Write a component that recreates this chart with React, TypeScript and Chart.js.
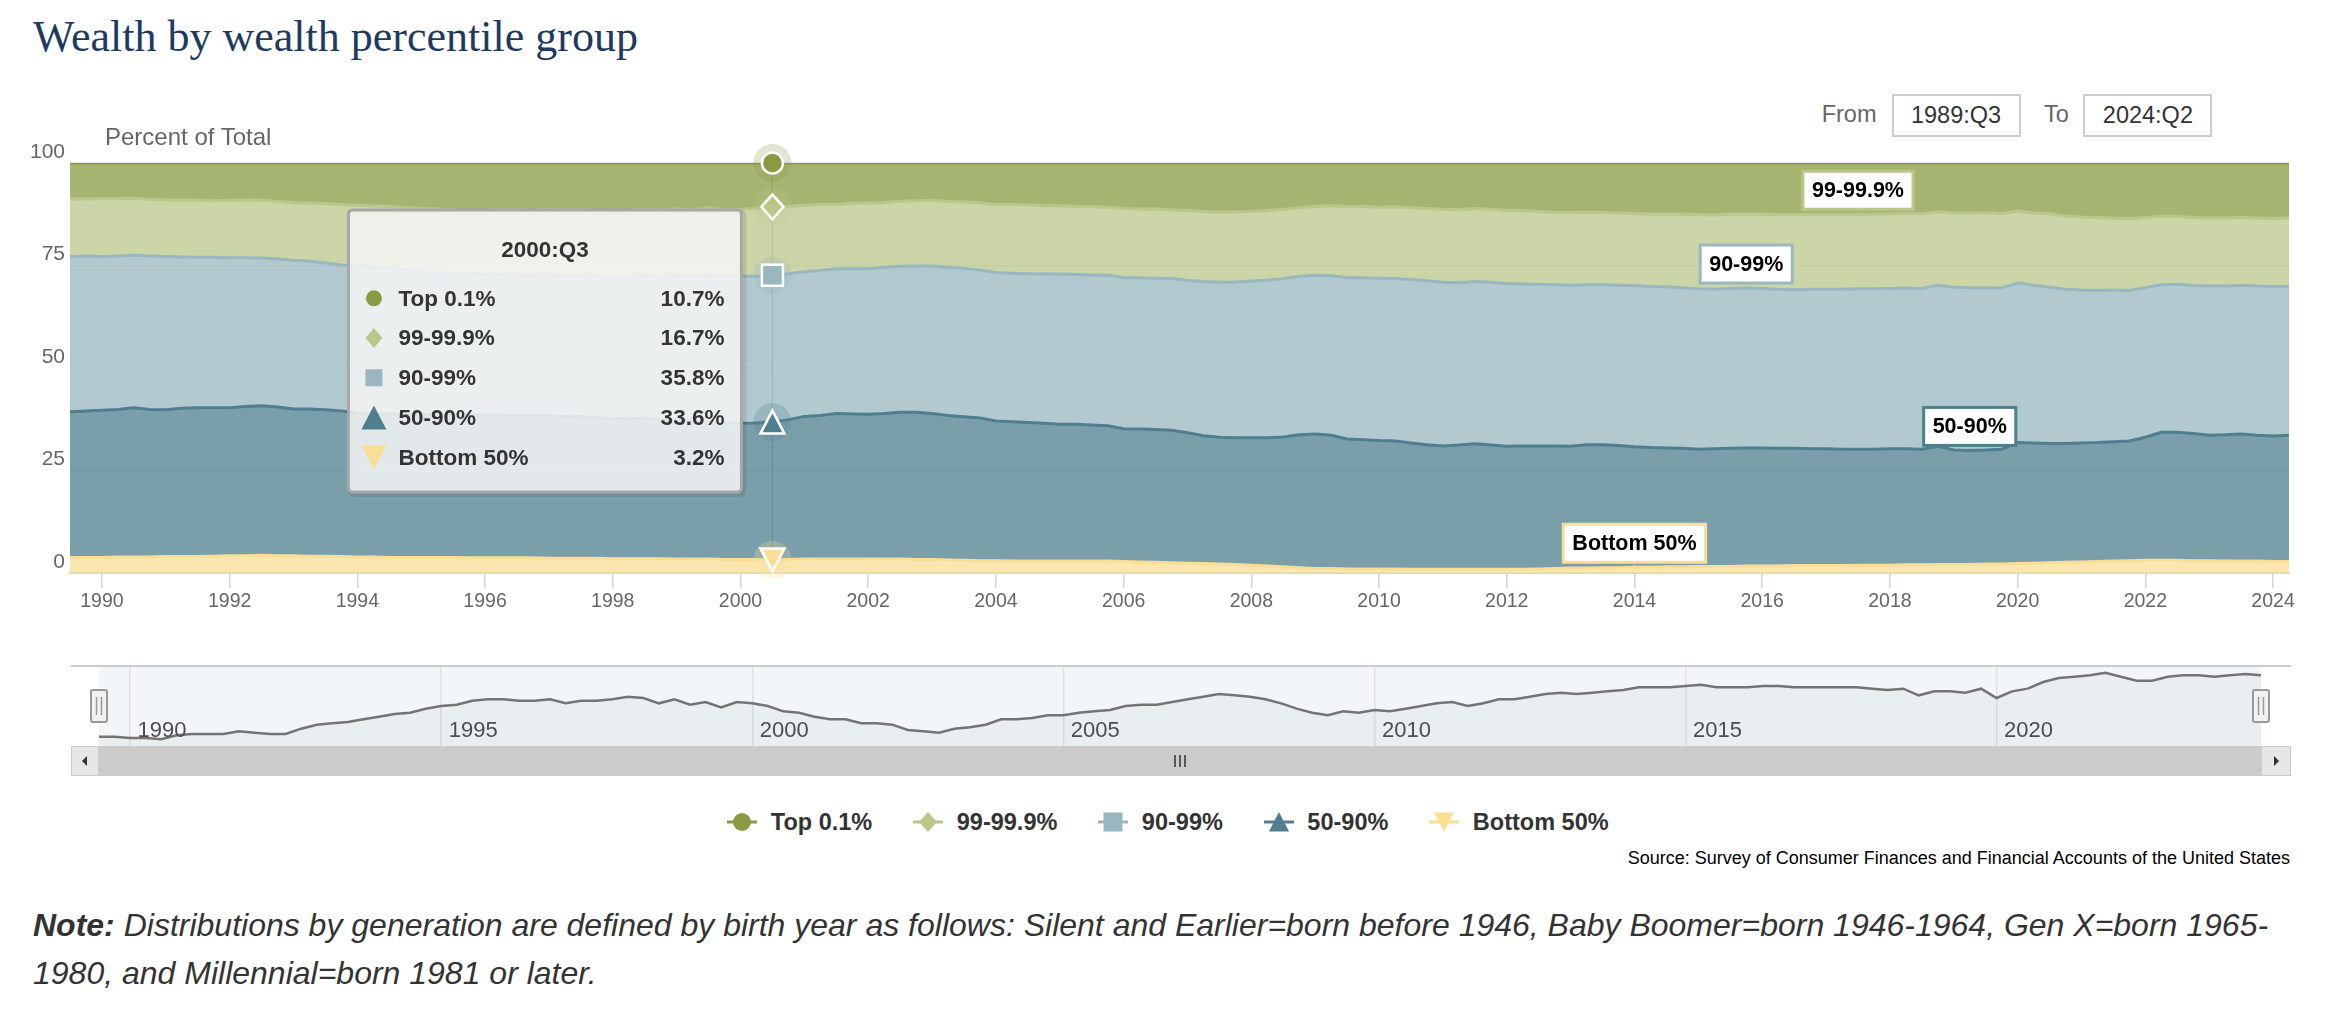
import React, { useEffect, useRef } from "react";
import { Chart, registerables } from "chart.js";

Chart.register(...registerables);

// ---------------- data ----------------
const FIRST_YEAR = 1989;
const FIRST_QUARTER = 3;
const hoveredQuarter = "2000:Q3";

const seriesNames = ["Top 0.1%", "99-99.9%", "90-99%", "50-90%", "Bottom 50%"];

const top01 = [
  8.8, 8.8, 8.7, 8.7, 8.6, 8.9, 9.0, 9.0, 9.0, 9.2,
  9.1, 9.0, 9.0, 9.4, 9.7, 9.8, 9.9, 10.1, 10.3, 10.5,
  10.6, 10.9, 11.1, 11.2, 11.5, 11.6, 11.6, 11.5, 11.5, 11.6,
  11.3, 11.5, 11.5, 11.6, 11.8, 11.7, 11.3, 11.6, 11.2, 11.4,
  11.0, 11.4, 11.3, 11.1, 10.7, 10.6, 10.3, 10.1, 10.1, 9.8,
  9.8, 9.7, 9.3, 9.2, 9.1, 9.4, 9.5, 9.7, 10.1, 10.1,
  10.2, 10.4, 10.4, 10.6, 10.7, 10.8, 11.1, 11.2, 11.2, 11.4,
  11.6, 11.8, 12.0, 11.9, 11.8, 11.6, 11.3, 10.9, 10.6, 10.4,
  10.7, 10.6, 10.8, 10.7, 10.9, 11.1, 11.3, 11.4, 11.1, 11.3,
  11.6, 11.6, 11.8, 12.0, 12.1, 12.0, 12.1, 12.2, 12.3, 12.5,
  12.5, 12.5, 12.6, 12.7, 12.5, 12.5, 12.5, 12.6, 12.6, 12.5,
  12.5, 12.5, 12.5, 12.5, 12.4, 12.3, 12.4, 11.9, 12.2, 12.2,
  12.1, 12.4, 11.7, 12.2, 12.4, 12.9, 13.2, 13.3, 13.4, 13.6,
  13.3, 13.0, 13.0, 13.3, 13.4, 13.4, 13.3, 13.4, 13.5, 13.4,
];

const p99to999 = [
  14.0, 13.9, 14.1, 14.0, 13.9, 13.8, 13.8, 13.9, 14.0, 13.8,
  14.0, 14.1, 14.2, 14.0, 14.0, 14.1, 14.5, 14.8, 14.7, 14.9,
  15.1, 15.1, 15.3, 15.5, 15.5, 15.5, 15.6, 15.7, 15.8, 15.8,
  15.9, 16.0, 16.0, 16.0, 16.0, 16.0, 16.1, 16.1, 16.2, 16.2,
  16.3, 16.2, 16.3, 16.5, 16.7, 16.4, 16.2, 16.1, 15.7, 16.0,
  16.0, 15.8, 15.9, 15.9, 16.0, 16.0, 16.2, 16.4, 16.6, 16.8,
  16.8, 16.7, 16.7, 16.6, 16.6, 16.6, 16.8, 16.8, 16.9, 16.8,
  17.0, 17.1, 17.1, 17.1, 17.0, 17.0, 16.9, 16.7, 16.8, 17.1,
  17.3, 17.4, 17.3, 17.5, 17.5, 17.6, 17.8, 17.8, 17.8, 17.8,
  17.8, 17.9, 17.8, 17.7, 17.7, 17.7, 17.6, 17.6, 17.6, 17.6,
  17.7, 17.9, 18.1, 18.1, 18.1, 18.0, 18.1, 18.2, 18.3, 18.3,
  18.3, 18.3, 18.2, 18.2, 18.2, 18.2, 18.2, 17.9, 18.1, 18.2,
  18.3, 18.1, 17.6, 17.6, 17.9, 17.9, 17.8, 17.8, 17.6, 17.5,
  17.1, 16.7, 16.6, 16.6, 16.6, 16.6, 16.5, 16.6, 16.6, 16.7,
];

const p90to99 = [
  37.9, 37.8, 37.5, 37.4, 37.2, 37.4, 37.4, 36.9, 36.7, 36.7,
  36.6, 36.3, 36.0, 36.1, 36.3, 36.1, 35.8, 35.6, 35.9, 35.7,
  35.5, 35.2, 34.9, 34.6, 34.4, 34.3, 34.3, 34.3, 34.3, 34.2,
  34.5, 34.3, 34.4, 34.5, 34.5, 34.7, 34.8, 34.8, 35.3, 35.4,
  35.9, 35.8, 35.9, 35.8, 35.8, 35.6, 35.3, 35.4, 35.3, 35.4,
  35.5, 35.6, 35.6, 35.7, 36.0, 36.2, 36.2, 36.1, 36.2, 36.2,
  36.3, 36.4, 36.6, 36.5, 36.6, 36.7, 36.9, 36.9, 36.9, 37.0,
  37.2, 37.6, 37.8, 38.0, 38.2, 38.4, 38.6, 38.7, 38.7, 38.9,
  39.3, 39.5, 39.6, 39.6, 39.9, 40.0, 39.9, 39.6, 39.6, 39.7,
  39.7, 39.5, 39.4, 39.3, 39.3, 39.0, 39.0, 39.1, 39.3, 39.3,
  39.3, 39.2, 39.1, 38.9, 39.0, 39.0, 38.9, 38.8, 38.7, 38.9,
  38.9, 39.0, 39.1, 39.1, 39.1, 39.2, 39.2, 39.3, 39.7, 39.7,
  39.6, 39.3, 38.9, 38.5, 38.1, 37.6, 37.3, 37.1, 37.0, 36.7,
  36.5, 36.0, 36.1, 36.1, 36.4, 36.3, 36.3, 36.4, 36.5, 36.3,
];

const p50to90 = [
  35.5, 35.7, 35.9, 36.0, 36.4, 36.0, 35.8, 36.2, 36.3, 36.2,
  36.1, 36.4, 36.5, 36.3, 35.8, 35.9, 35.7, 35.5, 35.2, 35.0,
  35.0, 35.0, 34.9, 34.9, 34.8, 34.9, 34.8, 34.8, 34.7, 34.7,
  34.7, 34.6, 34.5, 34.3, 34.2, 34.1, 34.3, 34.0, 33.9, 33.6,
  33.4, 33.3, 33.2, 33.3, 33.6, 34.1, 34.8, 35.0, 35.5, 35.4,
  35.3, 35.5, 35.8, 35.9, 35.6, 35.2, 35.0, 34.8, 34.1, 34.0,
  33.8, 33.6, 33.4, 33.4, 33.2, 33.0, 32.4, 32.4, 32.4, 32.3,
  31.8, 31.2, 30.9, 30.9, 31.1, 31.3, 31.7, 32.4, 32.8, 32.5,
  31.7, 31.5, 31.3, 31.2, 30.8, 30.4, 30.1, 30.3, 30.6, 30.3,
  30.0, 30.1, 30.0, 29.9, 29.7, 30.1, 30.0, 29.8, 29.4, 29.2,
  29.0, 28.9, 28.6, 28.7, 28.8, 28.8, 28.8, 28.7, 28.6, 28.5,
  28.5, 28.4, 28.3, 28.3, 28.4, 28.3, 28.2, 28.8, 27.9, 27.8,
  27.8, 28.0, 29.5, 29.3, 29.1, 29.0, 29.0, 29.0, 29.1, 29.2,
  30.0, 31.2, 31.2, 31.0, 30.6, 30.8, 31.0, 30.7, 30.6, 30.8,
];

const bottom50 = [
  3.8, 3.8, 3.8, 3.9, 3.9, 3.9, 4.0, 4.0, 4.0, 4.1,
  4.2, 4.2, 4.3, 4.2, 4.2, 4.1, 4.1, 4.0, 3.9, 3.9,
  3.8, 3.8, 3.8, 3.8, 3.8, 3.7, 3.7, 3.7, 3.7, 3.7,
  3.6, 3.6, 3.6, 3.6, 3.5, 3.5, 3.5, 3.5, 3.4, 3.4,
  3.4, 3.3, 3.3, 3.3, 3.2, 3.3, 3.4, 3.4, 3.4, 3.4,
  3.4, 3.4, 3.4, 3.3, 3.3, 3.2, 3.1, 3.0, 3.0, 2.9,
  2.9, 2.9, 2.9, 2.9, 2.9, 2.9, 2.8, 2.7, 2.6, 2.5,
  2.4, 2.3, 2.2, 2.1, 1.9, 1.7, 1.5, 1.3, 1.1, 1.1,
  1.0, 1.0, 1.0, 1.0, 0.9, 0.9, 0.9, 0.9, 0.9, 0.9,
  0.9, 0.9, 1.0, 1.1, 1.2, 1.2, 1.3, 1.3, 1.4, 1.4,
  1.5, 1.5, 1.6, 1.6, 1.6, 1.7, 1.7, 1.7, 1.8, 1.8,
  1.8, 1.8, 1.9, 1.9, 1.9, 2.0, 2.0, 2.1, 2.1, 2.1,
  2.2, 2.2, 2.3, 2.4, 2.5, 2.6, 2.7, 2.8, 2.9, 3.0,
  3.1, 3.1, 3.1, 3.0, 3.0, 2.9, 2.9, 2.9, 2.8, 2.8,
];

const seriesValues = [top01, p99to999, p90to99, p50to90, bottom50];

// quarter categories (1989:Q3 ... 2024:Q2)
const quarterLabels: string[] = top01.map((_, i) => {
  const q = FIRST_QUARTER - 1 + i;
  return `${FIRST_YEAR + Math.floor(q / 4)}:Q${(q % 4) + 1}`;
});
const quarterX: number[] = quarterLabels.map((label) => {
  const [year, quarter] = label.split(":Q");
  return Number(year) + (Number(quarter) - 1) / 4;
});

const xTickYears = [1990, 1992, 1994, 1996, 1998, 2000, 2002, 2004, 2006, 2008, 2010, 2012, 2014, 2016, 2018, 2020, 2022, 2024];
const yTickValues = [0, 25, 50, 75, 100];
const navigatorYears = [1990, 1995, 2000, 2005, 2010, 2015, 2020];
// quarter at which each series' in-chart label sits ("" = no label)
const seriesLabelQuarters = ["", "2017:Q3", "2015:Q4", "2019:Q2", "2014:Q1"];

// ---------------- styles ----------------
const FONT = '"Liberation Sans", Arial, Helvetica, sans-serif';
const SERIF = '"Liberation Serif", "Times New Roman", serif';
const seriesColors = ["#889b43", "#bac78b", "#98b7bf", "#4f7f8e", "#fade96"];
const seriesShapes = ["circle", "diamond", "square", "triangle", "triangle-down"];
const hoverSizes = [[10.5, 10.5], [11, 12.5], [10.5, 10.5], [12, 11.5], [12, 11.5]];
const tipSizes = [[8, 8], [8.5, 10], [8.5, 8.5], [12.5, 12], [12.5, 12]];

const hoverIndex = quarterLabels.indexOf(hoveredQuarter);

function hexToRgba(hex: string, a: number) {
  const n = parseInt(hex.slice(1), 16);
  return `rgba(${(n >> 16) & 255},${(n >> 8) & 255},${n & 255},${a})`;
}

function shapePath(ctx: any, shape: string, x: number, y: number, rx: number, ry: number) {
  ctx.beginPath();
  if (shape === "circle") {
    ctx.ellipse(x, y, rx, ry, 0, 0, Math.PI * 2);
  } else if (shape === "diamond") {
    ctx.moveTo(x, y - ry); ctx.lineTo(x + rx, y); ctx.lineTo(x, y + ry); ctx.lineTo(x - rx, y); ctx.closePath();
  } else if (shape === "square") {
    ctx.rect(x - rx, y - ry, rx * 2, ry * 2);
  } else if (shape === "triangle") {
    ctx.moveTo(x, y - ry); ctx.lineTo(x + rx, y + ry); ctx.lineTo(x - rx, y + ry); ctx.closePath();
  } else {
    ctx.moveTo(x - rx, y - ry); ctx.lineTo(x + rx, y - ry); ctx.lineTo(x, y + ry); ctx.closePath();
  }
}

function roundRectPath(ctx: any, x: number, y: number, w: number, h: number, r: number) {
  ctx.beginPath();
  ctx.moveTo(x + r, y);
  ctx.arcTo(x + w, y, x + w, y + h, r);
  ctx.arcTo(x + w, y + h, x, y + h, r);
  ctx.arcTo(x, y + h, x, y, r);
  ctx.arcTo(x, y, x + w, y, r);
  ctx.closePath();
}

const mainOverlay = {
  id: "mainOverlay",
  beforeDatasetsDraw(chart: any) {
    const { ctx, chartArea } = chart;
    const x = chart.scales.x.getPixelForValue(quarterX[hoverIndex]);
    ctx.save();
    ctx.strokeStyle = "#c4c4c4";
    ctx.lineWidth = 1.5;
    ctx.beginPath();
    ctx.moveTo(x, chartArea.top);
    ctx.lineTo(x, chartArea.bottom);
    ctx.stroke();
    ctx.restore();
  },
  afterDatasetsDraw(chart: any) {
    const ctx = chart.ctx;
    const n = seriesValues.length;
    const pointOf = (k: number, i: number) => chart.getDatasetMeta(n - 1 - k).data[i];
    ctx.save();

    // series labels
    ctx.font = `bold 21.5px ${FONT}`;
    ctx.textAlign = "center";
    ctx.textBaseline = "middle";
    seriesLabelQuarters.forEach((q, k) => {
      if (!q) return;
      const p = pointOf(k, quarterLabels.indexOf(q));
      const w = ctx.measureText(seriesNames[k]).width + 18;
      const h = 38;
      const bx = p.x - w / 2;
      const by = p.y - 5 - h;
      ctx.fillStyle = "#ffffff";
      ctx.fillRect(bx, by, w, h);
      ctx.strokeStyle = seriesColors[k];
      ctx.lineWidth = 3;
      ctx.strokeRect(bx, by, w, h);
      ctx.fillStyle = "#000000";
      ctx.fillText(seriesNames[k], p.x, by + h / 2 + 1);
      ctx.beginPath();
      ctx.arc(p.x, p.y, 2, 0, Math.PI * 2);
      ctx.fillStyle = seriesColors[k];
      ctx.fill();
    });

    // hover halos and markers
    for (let k = 0; k < n; k++) {
      const p = pointOf(k, hoverIndex);
      ctx.fillStyle = hexToRgba(seriesColors[k], 0.25);
      ctx.beginPath();
      ctx.arc(p.x, p.y, 19, 0, Math.PI * 2);
      ctx.fill();
    }
    for (let k = 0; k < n; k++) {
      const p = pointOf(k, hoverIndex);
      shapePath(ctx, seriesShapes[k], p.x, p.y, hoverSizes[k][0], hoverSizes[k][1]);
      ctx.fillStyle = seriesColors[k];
      ctx.fill();
      ctx.strokeStyle = "#ffffff";
      ctx.lineWidth = 2.5;
      ctx.stroke();
    }

    // tooltip
    const hx = pointOf(0, hoverIndex).x;
    const tw = 393;
    const th = 282;
    const tx = hx - 31 - tw;
    const ty = 110;
    ctx.strokeStyle = "rgba(0,0,0,0.10)";
    ctx.lineWidth = 6;
    roundRectPath(ctx, tx + 2, ty + 2, tw, th, 4);
    ctx.stroke();
    roundRectPath(ctx, tx, ty, tw, th, 4);
    ctx.fillStyle = "rgba(247,247,247,0.85)";
    ctx.fill();
    ctx.strokeStyle = "#a8a8a8";
    ctx.lineWidth = 3;
    ctx.stroke();

    ctx.font = `bold 22.5px ${FONT}`;
    ctx.fillStyle = "#333333";
    ctx.textAlign = "center";
    ctx.fillText(hoveredQuarter, tx + tw / 2, ty + 41);
    for (let k = 0; k < n; k++) {
      const cy = ty + 88.3 + k * 39.75;
      shapePath(ctx, seriesShapes[k], tx + 25.5, cy, tipSizes[k][0], tipSizes[k][1]);
      ctx.fillStyle = seriesColors[k];
      ctx.fill();
      ctx.fillStyle = "#333333";
      ctx.textAlign = "left";
      ctx.fillText(seriesNames[k], tx + 50, cy + 1);
      ctx.textAlign = "right";
      ctx.fillText(`${seriesValues[k][hoverIndex].toFixed(1)}%`, tx + 376, cy + 1);
    }
    ctx.restore();
  },
};

function buildMainConfig(): any {
  const n = seriesValues.length;
  const datasets = seriesValues
    .map((_, idx) => n - 1 - idx)
    .map((k, j) => ({
      label: seriesNames[k],
      data: seriesValues[k].map((v, i) => ({ x: quarterX[i], y: v })),
      borderColor: seriesColors[k],
      backgroundColor: hexToRgba(seriesColors[k], 0.75),
      borderWidth: 3,
      pointRadius: 0,
      pointHoverRadius: 0,
      tension: 0,
      fill: j === 0 ? "origin" : "-1",
    }));
  return {
    type: "line",
    data: { datasets },
    options: {
      responsive: false,
      animation: false,
      events: [],
      layout: { padding: { left: 0, right: 47, top: 63, bottom: 0 } },
      plugins: { legend: { display: false }, tooltip: { enabled: false } },
      scales: {
        x: {
          type: "linear",
          min: quarterX[0],
          max: quarterX[quarterX.length - 1],
          afterBuildTicks: (s: any) => { s.ticks = xTickYears.map((v) => ({ value: v })); },
          afterFit: (s: any) => { s.height = 67; },
          grid: { drawOnChartArea: false, drawTicks: true, tickLength: 15, color: "#ccd6eb", lineWidth: 1.5 },
          border: { display: true, color: "#ccd6eb", width: 2 },
          ticks: {
            color: "#666666",
            font: { family: FONT, size: 19.5 },
            padding: 2,
            maxRotation: 0,
            autoSkip: false,
            callback: (v: any) => String(v),
          },
        },
        y: {
          stacked: true,
          min: 0,
          max: 100,
          afterBuildTicks: (s: any) => { s.ticks = yTickValues.map((v) => ({ value: v })); },
          afterFit: (s: any) => { s.width = 70; },
          grid: { color: "#e6e6e6", lineWidth: 1.5, drawTicks: false },
          border: { display: false },
          ticks: {
            color: "#666666",
            font: { family: FONT, size: 21 },
            padding: 5,
            labelOffset: -11,
            callback: (v: any) => String(v),
          },
        },
      },
    },
    plugins: [mainOverlay],
  };
}

const navOverlay = {
  id: "navOverlay",
  beforeDraw(chart: any) {
    const { ctx, chartArea: a } = chart;
    ctx.save();
    ctx.fillStyle = "#f2f6f9";
    ctx.fillRect(a.left, a.top, a.right - a.left, a.bottom - a.top);
    ctx.restore();
  },
  afterDraw(chart: any) {
    const { ctx, chartArea: a } = chart;
    const xs = chart.scales.x;
    ctx.save();
    // year labels
    ctx.font = `22px ${FONT}`;
    ctx.fillStyle = "#4d4d4d";
    ctx.textAlign = "left";
    ctx.textBaseline = "middle";
    navigatorYears.forEach((y) => ctx.fillText(String(y), xs.getPixelForValue(y) + 7.5, a.bottom - 15));

    const left = a.left - 28;
    const right = a.right + 30;
    // outline
    ctx.strokeStyle = "#cccccc";
    ctx.lineWidth = 2;
    ctx.beginPath();
    ctx.moveTo(left, a.top);
    ctx.lineTo(right, a.top);
    ctx.stroke();

    // scrollbar
    const sy = a.bottom;
    const sh = 30;
    ctx.fillStyle = "#f2f2f2";
    ctx.fillRect(left, sy, right - left, sh);
    ctx.fillStyle = "#e6e6e6";
    ctx.fillRect(left, sy, a.left - left, sh);
    ctx.fillRect(a.right, sy, right - a.right, sh);
    ctx.strokeStyle = "#cccccc";
    ctx.lineWidth = 1;
    ctx.strokeRect(left + 0.5, sy + 0.5, a.left - left - 1, sh - 1);
    ctx.strokeRect(a.right + 0.5, sy + 0.5, right - a.right - 1, sh - 1);
    ctx.fillStyle = "#cccccc";
    ctx.fillRect(a.left, sy, a.right - a.left, sh);
    // arrows
    const cy = sy + sh / 2;
    ctx.fillStyle = "#333333";
    const lx = (left + a.left) / 2;
    ctx.beginPath(); ctx.moveTo(lx - 3, cy); ctx.lineTo(lx + 2, cy - 5); ctx.lineTo(lx + 2, cy + 5); ctx.closePath(); ctx.fill();
    const rx = (a.right + right) / 2;
    ctx.beginPath(); ctx.moveTo(rx + 3, cy); ctx.lineTo(rx - 2, cy - 5); ctx.lineTo(rx - 2, cy + 5); ctx.closePath(); ctx.fill();
    // grip
    const gx = (a.left + a.right) / 2;
    ctx.strokeStyle = "#333333";
    ctx.lineWidth = 1.5;
    [-5, 0, 5].forEach((d) => {
      ctx.beginPath(); ctx.moveTo(gx + d, cy - 6); ctx.lineTo(gx + d, cy + 6); ctx.stroke();
    });

    // handles
    const hy = (a.top + a.bottom) / 2;
    [a.left, a.right].forEach((hxc) => {
      roundRectPath(ctx, hxc - 8, hy - 16, 16, 32, 2);
      ctx.fillStyle = "#f2f2f2";
      ctx.fill();
      ctx.strokeStyle = "#999999";
      ctx.lineWidth = 2;
      ctx.stroke();
      ctx.lineWidth = 1.5;
      [-2.5, 2.5].forEach((d) => {
        ctx.beginPath(); ctx.moveTo(hxc + d, hy - 9); ctx.lineTo(hxc + d, hy + 9); ctx.stroke();
      });
    });
    ctx.restore();
  },
};

function buildNavConfig(): any {
  const lo = Math.min(...top01);
  const hi = Math.max(...top01);
  const pad = (hi - lo) * 0.1;
  return {
    type: "line",
    data: {
      datasets: [
        {
          label: seriesNames[0],
          data: top01.map((v, i) => ({ x: quarterX[i], y: v })),
          borderColor: "#747474",
          borderWidth: 2.5,
          pointRadius: 0,
          tension: 0,
          fill: "start",
          backgroundColor: "rgba(110,120,100,0.06)",
        },
      ],
    },
    options: {
      responsive: false,
      animation: false,
      events: [],
      layout: { padding: { left: 99, right: 75, top: 6, bottom: 39 } },
      plugins: { legend: { display: false }, tooltip: { enabled: false } },
      scales: {
        x: {
          type: "linear",
          min: quarterX[0],
          max: quarterX[quarterX.length - 1],
          afterBuildTicks: (s: any) => { s.ticks = navigatorYears.map((v) => ({ value: v })); },
          afterFit: (s: any) => { s.height = 0; },
          grid: { color: "#e0e0e0", lineWidth: 1.5, drawTicks: false },
          border: { display: false },
          ticks: { display: false },
        },
        y: { display: false, min: lo - pad, max: hi + pad },
      },
    },
    plugins: [navOverlay],
  };
}

function LegendSymbol({ shape, color }: { shape: string; color: string }) {
  let marker: any;
  if (shape === "circle") marker = <circle cx={15} cy={12} r={9} fill={color} />;
  else if (shape === "diamond") marker = <polygon points="15,2 24,12 15,22 6,12" fill={color} />;
  else if (shape === "square") marker = <rect x={5.5} y={2.5} width={19} height={19} fill={color} />;
  else if (shape === "triangle") marker = <polygon points="15,2 25,21.5 5,21.5" fill={color} />;
  else marker = <polygon points="5,2.5 25,2.5 15,22" fill={color} />;
  return (
    <svg width={30} height={24} style={{ display: "block", marginRight: 13.5 }}>
      <line x1={0} y1={12} x2={30} y2={12} stroke={color} strokeWidth={3} />
      {marker}
    </svg>
  );
}

export default function App() {
  const mainRef = useRef<HTMLCanvasElement>(null);
  const navRef = useRef<HTMLCanvasElement>(null);

  useEffect(() => {
    const charts: any[] = [];
    if (mainRef.current) charts.push(new Chart(mainRef.current, buildMainConfig()));
    if (navRef.current) charts.push(new Chart(navRef.current, buildNavConfig()));
    return () => charts.forEach((c) => c.destroy());
  }, []);

  const boxStyle: any = {
    position: "absolute",
    top: 94.3,
    width: 129,
    height: 43,
    boxSizing: "border-box",
    border: "2px solid #cccccc",
    display: "flex",
    alignItems: "center",
    justifyContent: "center",
    fontSize: 23.5,
    color: "#333333",
    background: "#ffffff",
  };

  return (
    <div
      style={{
        position: "absolute",
        left: 0,
        top: 0,
        width: 2336,
        height: 1034,
        background: "#ffffff",
        overflow: "hidden",
        fontFamily: FONT,
      }}
    >
      <div
        style={{
          position: "absolute",
          left: 33,
          top: 15.3,
          fontFamily: SERIF,
          fontSize: 44,
          lineHeight: "44px",
          color: "#1e3a5f",
          whiteSpace: "nowrap",
        }}
      >
        Wealth by wealth percentile group
      </div>

      <div style={{ position: "absolute", left: 1821.7, top: 102, fontSize: 23.5, lineHeight: "24px", color: "#666666" }}>From</div>
      <div style={{ ...boxStyle, left: 1891.5 }}>{quarterLabels[0]}</div>
      <div style={{ position: "absolute", left: 2044, top: 102, fontSize: 23.5, lineHeight: "24px", color: "#666666" }}>To</div>
      <div style={{ ...boxStyle, left: 2083.4 }}>{quarterLabels[quarterLabels.length - 1]}</div>

      <canvas ref={mainRef} width={2336} height={540} style={{ position: "absolute", left: 0, top: 100 }} />

      <div
        style={{
          position: "absolute",
          left: 105,
          top: 124.5,
          fontSize: 24,
          lineHeight: "24px",
          color: "#666666",
          whiteSpace: "nowrap",
        }}
      >
        Percent of Total
      </div>

      <canvas ref={navRef} width={2336} height={125} style={{ position: "absolute", left: 0, top: 660 }} />

      <div
        style={{
          position: "absolute",
          left: 0,
          top: 809.5,
          width: 2336,
          height: 24,
          display: "flex",
          justifyContent: "center",
          alignItems: "center",
          gap: 41,
        }}
      >
        {seriesNames.map((name, k) => (
          <div key={name} style={{ display: "flex", alignItems: "center" }}>
            <LegendSymbol shape={seriesShapes[k]} color={seriesColors[k]} />
            <span style={{ fontSize: 23.5, fontWeight: "bold", color: "#333333", lineHeight: "24px", whiteSpace: "nowrap" }}>
              {name}
            </span>
          </div>
        ))}
      </div>

      <div
        style={{
          position: "absolute",
          right: 46,
          top: 848,
          fontSize: 18,
          lineHeight: "20px",
          color: "#000000",
          whiteSpace: "nowrap",
        }}
      >
        Source: Survey of Consumer Finances and Financial Accounts of the United States
      </div>

      <div
        style={{
          position: "absolute",
          left: 33,
          top: 901.4,
          fontSize: 32,
          lineHeight: "48px",
          fontStyle: "italic",
          color: "#333333",
          whiteSpace: "nowrap",
        }}
      >
        <b>Note:</b> Distributions by generation are defined by birth year as follows: Silent and Earlier=born before 1946, Baby
        Boomer=born 1946-1964, Gen X=born 1965-
        <br />
        1980, and Millennial=born 1981 or later.
      </div>
    </div>
  );
}
